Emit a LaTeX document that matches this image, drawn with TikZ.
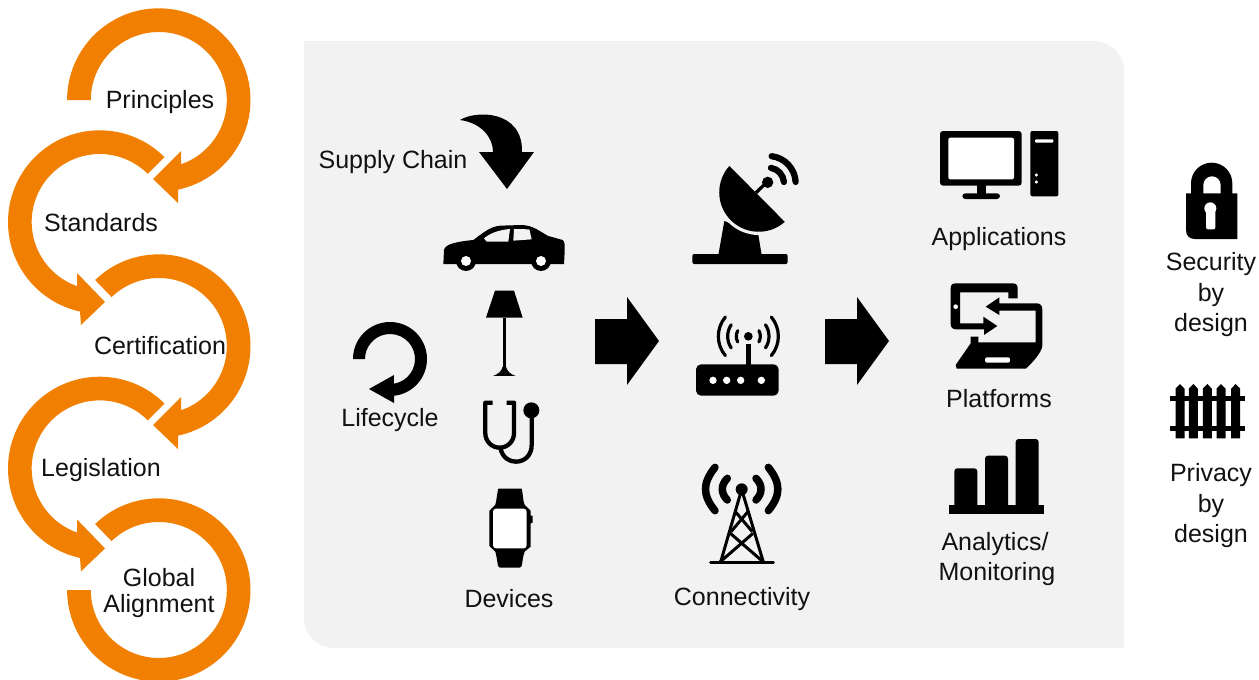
\documentclass[tikz,border=0pt]{standalone}
\usepackage{fontspec}
\setmainfont{Liberation Sans}
\definecolor{orangeA}{HTML}{F18002}
\definecolor{panelG}{HTML}{F2F2F2}
\definecolor{inkT}{HTML}{111111}
\tikzset{
  lbl/.style={anchor=base,inner sep=0pt,text=inkT,font=\fontsize{25}{29}\selectfont},
  zoomA/.style={shift={#1},scale=0.33333}
}
\newcommand{\ringA}[2]{% centre y, start angle
  \begin{scope}[shift={(158.8,#1)}]
    \fill[orangeA] (#2:91.7) arc[start angle=#2,end angle=437.8,radius=91.7]
      -- (19.2,103) -- (-5.8,79) -- (22.2,51) -- (430.9:68)
      arc[start angle=430.9,end angle=#2,radius=68] -- cycle;
  \end{scope}}
\newcommand{\ringB}[1]{%
  \begin{scope}[shift={(99.7,#1)}]
    \fill[orangeA] (-45:91.7) arc[start angle=-45,end angle=-257.6,radius=91.7]
      -- (-18.7,103) -- (5.3,80) -- (-22.7,51) -- (-250.5:68)
      arc[start angle=-250.5,end angle=-45,radius=68] -- cycle;
  \end{scope}}
\newcommand{\bigArrow}[1]{%
  \begin{scope}[shift={(#1,0)}]
    \fill (0,319) -- (32,319) -- (32,297) -- (64,341) -- (32,385) -- (32,364) -- (0,364) -- cycle;
  \end{scope}}
\begin{document}
\begin{tikzpicture}[x=1pt,y=1pt,yscale=-1]
\useasboundingbox (0,0) rectangle (1259,680);
% panel
\fill[panelG] (304,41) -- (1094,41) arc[start angle=-90,end angle=0,radius=30]
  -- (1124,648) -- (334,648) arc[start angle=90,end angle=180,radius=30] -- cycle;
% orange rings
\ringA{100}{180}
\ringB{222}
\ringA{346}{226}
\ringB{468.4}
\begin{scope}[shift={(158.8,590)}]
  \fill[orangeA] (226:91.7) arc[start angle=226,end angle=540,radius=91.7]
    -- (540:68) arc[start angle=540,end angle=226,radius=68] -- cycle;
\end{scope}
% big arrows
\bigArrow{595}
\bigArrow{825}
% supply chain arrow
\fill (460,120) .. controls (476,110) and (523,110) .. (522,152) -- (534,152) -- (507,189) -- (479,152)
  -- (493,152) .. controls (493,138) and (482,123) .. (460,120) -- cycle;
% lifecycle arrow
\begin{scope}[shift={(390,359)}]
  \fill (180:37) arc[start angle=180,end angle=443.7,radius=37] -- (4,44) -- (-21,30) -- (4,16) -- (441:25)
    arc[start angle=441,end angle=180,radius=25] -- cycle;
\end{scope}
% car, lamp
\begin{scope}[zoomA={(330,100)}]
  \fill (340,492) -- (342,450) .. controls (345,432) and (380,425) .. (430,420)
    .. controls (460,398) and (480,380) .. (510,377) -- (575,375) .. controls (610,376) and (630,395) .. (655,408)
    -- (698,420) .. controls (706,425) and (705,440) .. (702,492) -- cycle;
  \fill (408,483) circle[radius=30] (633,483) circle[radius=30];
  \fill[white] (408,483) circle[radius=15] (633,483) circle[radius=15];
  \fill[panelG] (462,415) .. controls (480,400) and (505,390) .. (540,387) -- (535,425) -- (470,425) -- cycle;
  \fill[panelG] (552,387) -- (598,388) -- (605,418) -- (550,422) -- cycle;
  % lamp
  \fill (495,572) -- (552,572) -- (578,653) -- (468,653) -- cycle;
  \fill (518,653) rectangle (528,810);
  \fill (489,828) .. controls (505,822) and (514,815) .. (518,800) -- (528,800)
    .. controls (532,815) and (541,822) .. (557,828) -- cycle;
\end{scope}
% stethoscope, watch
\begin{scope}[zoomA={(330,370)}]
  \draw[line width=4.3pt,line join=round] (488,98) -- (466,98) -- (466,190)
    arc[start angle=180,end angle=0,radius=43] -- (552,98) -- (530,98);
  \draw[line width=4.3pt] (511,234) .. controls (518,265) and (540,275) .. (557,275)
    .. controls (585,275) and (605,255) .. (605,225) -- (605,135);
  \fill (604,121) circle[radius=24];
  \fill (505,356) -- (575,356) .. controls (580,375) and (578,392) .. (584,404)
    -- (602,422) -- (602,436) -- (608,438) -- (608,458) -- (602,460) -- (602,530)
    -- (584,545) .. controls (578,560) and (578,575) .. (575,588) -- (570,593) -- (510,593) -- (504,588)
    .. controls (502,575) and (500,560) .. (496,545) -- (478,528) -- (478,422) -- (496,404)
    .. controls (500,392) and (500,375) .. (505,356) -- cycle;
  \fill[white,rounded corners=3pt] (489,416) rectangle (590,535);
\end{scope}
% dish, router
\begin{scope}[zoomA={(670,140)}]
  \fill (163,243) -- (145,345) -- (275,345) -- (265,285) -- cycle;
  \fill[panelG] (266,157) circle[radius=128];
  \fill[panelG] (140,180) rectangle (150,200);
  \fill (266,157) ++(48.5:118.3) arc[start angle=48.5,end angle=222,radius=118.3] -- cycle;
  \fill[rounded corners=2pt] (67,342) rectangle (353,372);
  \draw[line width=3.3pt] (258,158) -- (290,127);
  \fill (293,127) circle[radius=17];
  \draw[line width=6.3pt,line cap=round] (295,130) ++(-80:47) arc[start angle=-80,end angle=-5,radius=47];
  \draw[line width=6.3pt,line cap=round] (295,130) ++(-83:82) arc[start angle=-83,end angle=-3,radius=82];
  % router
  \fill[rounded corners=5pt] (78,673) rectangle (326,767);
  \fill (227,612) rectangle (243,680);
  \fill[white] (129,721) circle[radius=11] (170,721) circle[radius=11] (212,721) circle[radius=11] (274,721) circle[radius=11];
  \fill (235,589) circle[radius=13];
  \foreach \r/\a in {36/28,62/34,90/40}{
    \draw[line width=3.2pt,line cap=round] (235,589) ++(180-\a:\r) arc[start angle=180-\a,end angle=180+\a,radius=\r];
    \draw[line width=3.2pt,line cap=round] (235,589) ++(-\a:\r) arc[start angle=-\a,end angle=\a,radius=\r];
  }
\end{scope}
% tower
\begin{scope}[zoomA={(670,450)}]
  \draw[line width=7.5pt,line cap=round] (135,52) .. controls (97,100) and (97,135) .. (135,182);
  \draw[line width=7.5pt,line cap=round] (295,52) .. controls (333,100) and (333,135) .. (295,182);
  \draw[line width=7.5pt,line cap=round] (172,85) .. controls (152,105) and (152,130) .. (172,150);
  \draw[line width=7.5pt,line cap=round] (258,85) .. controls (278,105) and (278,130) .. (258,150);
  \fill (215,118) circle[radius=18];
  \draw[line width=3pt] (213,125) -- (152,336) (217,125) -- (280,336);
  \draw[line width=3pt] (197,186) -- (247,245) (233,186) -- (183,245);
  \draw[line width=3pt] (181,250) -- (280,336) (249,250) -- (150,336);
  \draw[line width=3.3pt,line cap=round] (122,338) -- (310,338);
\end{scope}
% monitor, tablet/laptop
\begin{scope}[zoomA={(920,120)}]
  \fill[rounded corners=3pt] (60,33) rectangle (305,197);
  \fill[white,rounded corners=2pt] (85,53) rectangle (282,178);
  \fill (170,190) rectangle (197,225);
  \fill[rounded corners=3pt] (127,220) rectangle (240,237);
  \fill[rounded corners=2pt] (331,33) rectangle (415,229);
  \fill[white,rounded corners=1pt] (345,58) rectangle (400,68);
  \fill[white] (349,165) circle[radius=5] (349,186) circle[radius=5];
  % tablet
  \fill (293,535) -- (293,505) .. controls (293,495) and (288,490) .. (278,490) -- (107,490)
    .. controls (97,490) and (92,495) .. (92,505) -- (92,612) .. controls (92,622) and (98,628) .. (108,628)
    -- (192,628) -- (192,645) -- (232,618) -- (190,590) -- (190,610) -- (120,610) -- (120,517) -- (265,517) -- (265,535) -- cycle;
  \fill[white] (107,560) circle[radius=7];
  % laptop
  \fill (238,532) -- (197,560) -- (238,585) -- (238,572) -- (347,572) -- (347,667) -- (175,667) -- (175,650) -- (152,650) -- (152,670)
    -- (107,735) -- (110,746) -- (318,746) .. controls (340,725) and (367,695) .. (367,675) -- (367,568)
    .. controls (367,556) and (360,550) .. (350,550) -- (238,550) -- cycle;
  \fill[white,rounded corners=2pt] (195,712) rectangle (270,728);
\end{scope}
% bars
\begin{scope}[zoomA={(930,430)}]
  \fill[rounded corners=3pt] (73,240) -- (73,115) -- (142,115) -- (142,240) -- cycle;
  \fill[rounded corners=3pt] (165,240) -- (165,77) -- (234,77) -- (234,240) -- cycle;
  \fill[rounded corners=3pt] (257,240) -- (257,27) -- (326,27) -- (326,240) -- cycle;
  \fill (57,226) rectangle (343,253);
\end{scope}
% lock, fence
\begin{scope}[zoomA={(1150,150)}]
  \fill (123,135) -- (123,100) arc[start angle=180,end angle=360,radius=62] -- (247,135) -- cycle;
  \fill[white] (160,135) -- (160,105) arc[start angle=180,end angle=360,radius=26] -- (212,135) -- cycle;
  \fill (108,130) -- (262,130) -- (262,267) -- (135,267) .. controls (118,267) and (108,257) .. (108,240) -- cycle;
  \fill[white] (181,175) circle[radius=18];
  \fill[white,rounded corners=2pt] (168,180) rectangle (196,238);
  \foreach \x in {90,130,172,213,257}{
    \fill (\x-13.5,865) -- (\x-13.5,716) -- (\x,702) -- (\x+13.5,716) -- (\x+13.5,865) -- cycle;
  }
  \fill (60,737) rectangle (285,753);
  \fill (60,828) rectangle (285,844);
\end{scope}
% labels
\node[lbl] (tPrinciples) at (160,108) {Principles};
\node[lbl] (tStandards) at (101,231) {Standards};
\node[lbl] (tCertification) at (160,354) {Certification};
\node[lbl] (tLegislation) at (101,476) {Legislation};
\node[lbl] (tGlobal) at (159,586) {Global};
\node[lbl] (tAlignment) at (159,612) {Alignment};
\node[lbl] (tSupply) at (393,168) {Supply Chain};
\node[lbl] (tLifecycle) at (390,426) {Lifecycle};
\node[lbl] (tDevices) at (509,607) {Devices};
\node[lbl] (tConnectivity) at (742,605) {Connectivity};
\node[lbl] (tApplications) at (999,245) {Applications};
\node[lbl] (tPlatforms) at (999,407) {Platforms};
\node[lbl] (tAnalytics) at (995,550) {Analytics/};
\node[lbl] (tMonitoring) at (997,580) {Monitoring};
\node[lbl] (tSecurity) at (1211,270) {Security};
\node[lbl] (tSby) at (1211,301) {by};
\node[lbl] (tSdesign) at (1211,331) {design};
\node[lbl] (tPrivacy) at (1211,481) {Privacy};
\node[lbl] (tPby) at (1211,512) {by};
\node[lbl] (tPdesign) at (1211,542) {design};
\end{tikzpicture}
\end{document}
